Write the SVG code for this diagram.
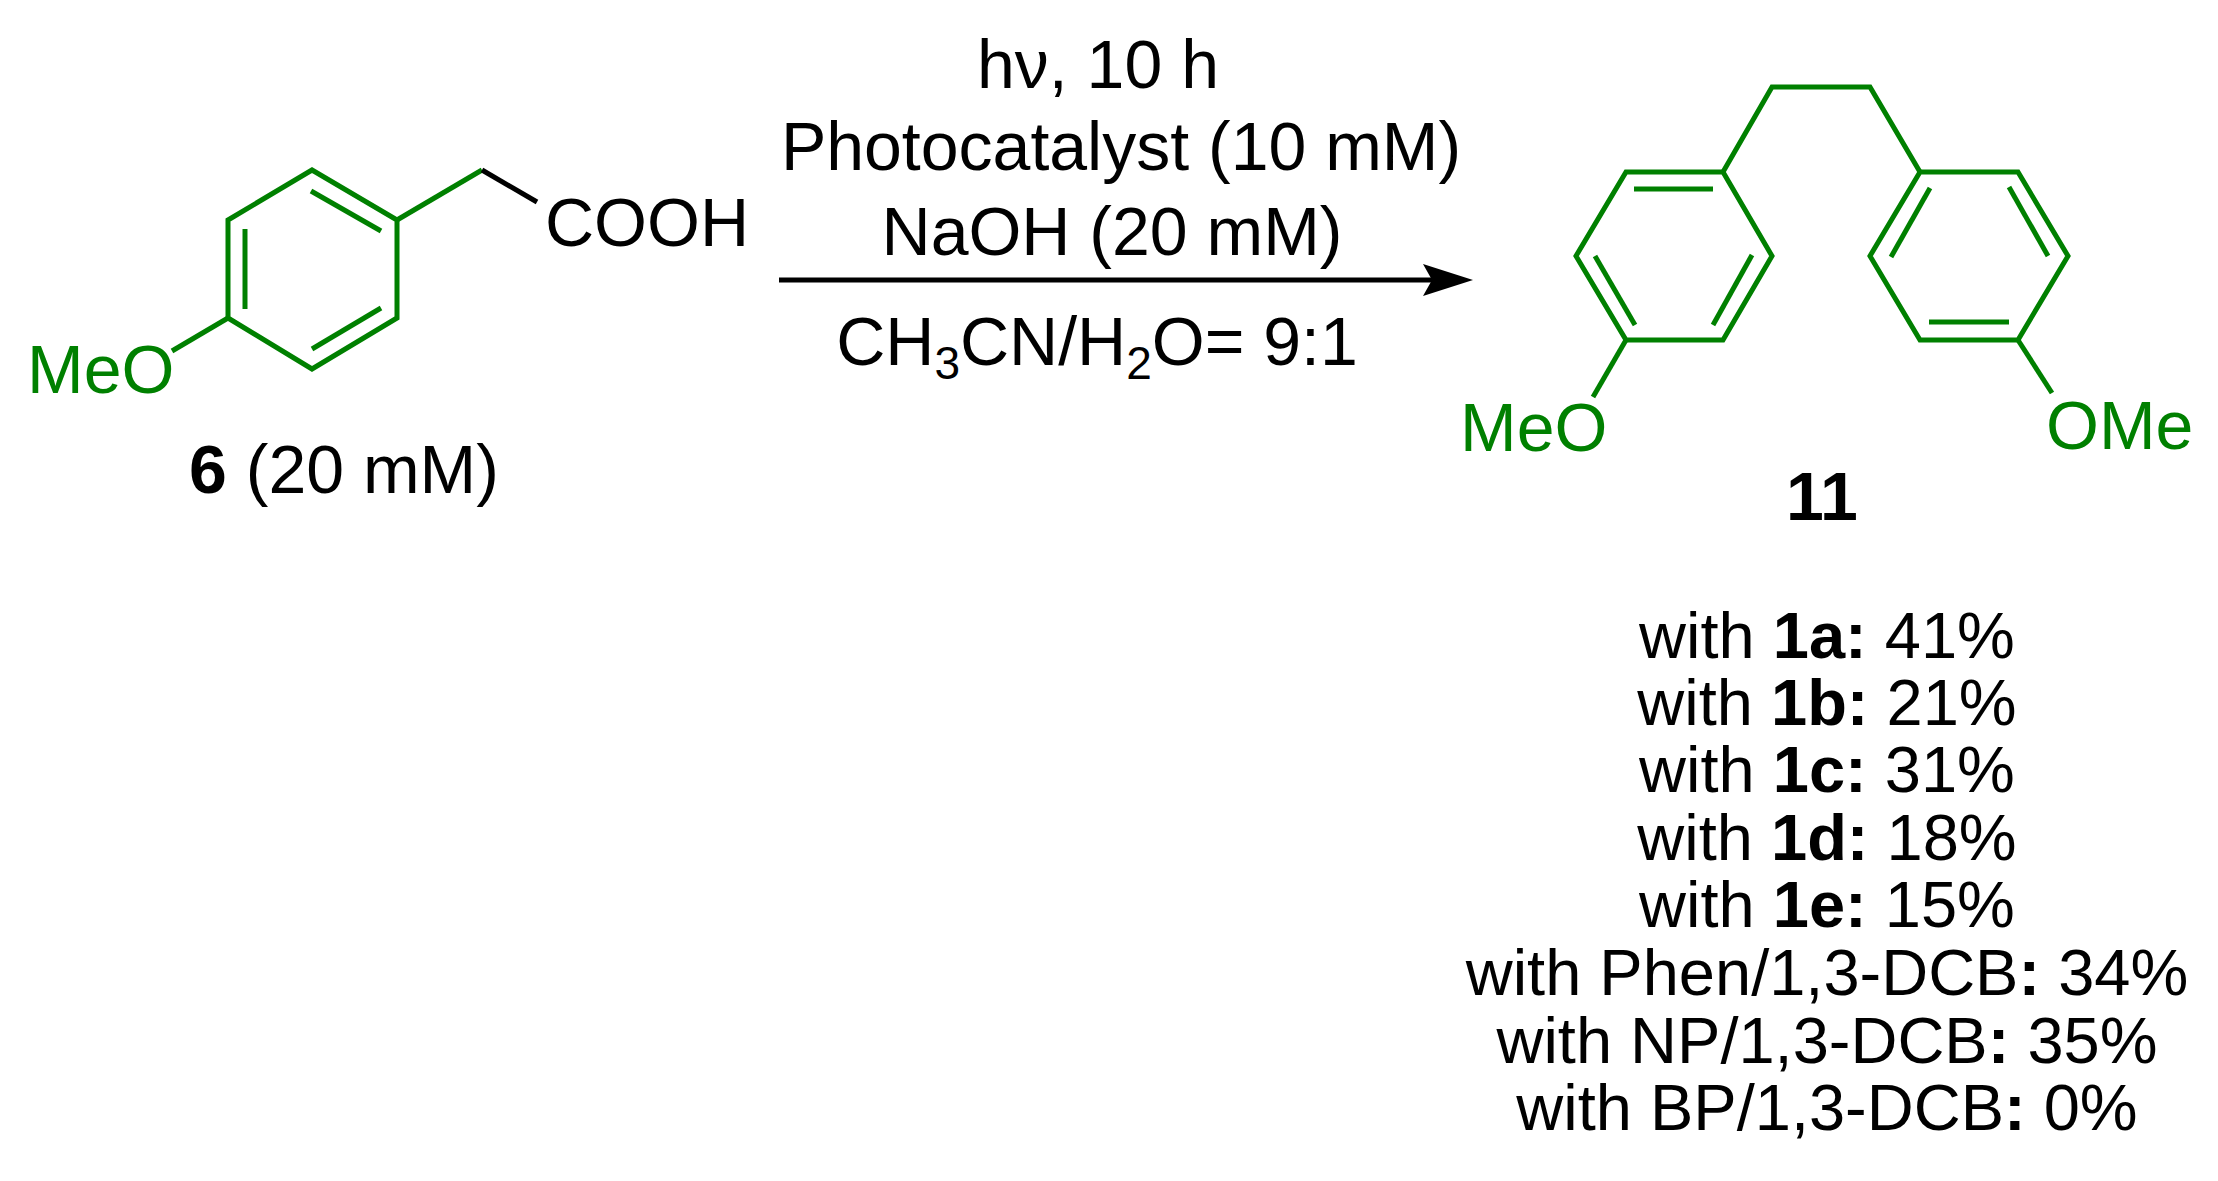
<svg xmlns="http://www.w3.org/2000/svg" width="2218" height="1181" viewBox="0 0 2218 1181">
<style>
text{font-family:"Liberation Sans",Arial,sans-serif;font-size:68px;fill:#000}
.y{font-size:65px}
.g{fill:#008000}
.b{font-weight:bold}
.bond{stroke:#008000;stroke-width:5;fill:none;stroke-linejoin:miter}
.k{stroke:#000;stroke-width:5;fill:none}
.m{text-anchor:middle}
</style>
<rect width="2218" height="1181" fill="#fff"/>
<g id="compound6">
<polygon class="bond" points="312,170 397,220 397,318 312,369 228,318 228,220"/>
<line class="bond" x1="311" y1="191" x2="381" y2="231"/>
<line class="bond" x1="245" y1="229" x2="245" y2="309"/>
<line class="bond" x1="312" y1="349" x2="381" y2="308"/>
<polyline class="bond" points="397,220 482,170"/>
<polyline class="k" points="482,170 537,202"/>
<line class="bond" x1="228" y1="318" x2="172" y2="351"/>
<text x="545" y="246">COOH</text>
<text class="g" x="27" y="393">MeO</text>
<text x="344" y="493" class="m"><tspan class="b">6</tspan> (20 mM)</text>
</g>
<g id="connectors">
<line x1="779" y1="280" x2="1440" y2="280" stroke="#000" stroke-width="5"/>
<path d="M1473,280 L1423,264 L1432,280 L1423,296 Z" fill="#000"/>
</g>
<g id="conditions">
<text class="m" x="1098" y="88">hν, 10 h</text>
<text class="m" x="1121" y="170">Photocatalyst (10 mM)</text>
<text class="m" x="1112" y="255">NaOH (20 mM)</text>
<text class="m" x="1097" y="365">CH<tspan font-size="46" dy="14">3</tspan><tspan dy="-14">CN/H</tspan><tspan font-size="46" dy="14">2</tspan><tspan dy="-14">O= 9:1</tspan></text>
</g>
<g id="compound11">
<polygon class="bond" points="1626,172 1723,172 1772,256 1723,340 1626,340 1576,256"/>
<line class="bond" x1="1634" y1="189" x2="1713" y2="189"/>
<line class="bond" x1="1595" y1="256" x2="1635" y2="325"/>
<line class="bond" x1="1752" y1="255" x2="1713" y2="325"/>
<polygon class="bond" points="1920,172 2018,172 2068,256 2018,340 1920,340 1870,256"/>
<line class="bond" x1="1930" y1="188" x2="1891" y2="257"/>
<line class="bond" x1="2009" y1="187" x2="2048" y2="256"/>
<line class="bond" x1="1929" y1="322" x2="2009" y2="322"/>
<polyline class="bond" points="1723,172 1772,87 1870,87 1920,172"/>
<line class="bond" x1="1626" y1="340" x2="1593" y2="397"/>
<line class="bond" x1="2018" y1="340" x2="2052" y2="393"/>
<text class="g" x="1460" y="451">MeO</text>
<text class="g" x="2046" y="449">OMe</text>
<text class="b m" x="1822" y="520">11</text>
</g>
<g id="yields">
<text class="m y" x="1827" y="658">with <tspan class="b">1a:</tspan> 41%</text>
<text class="m y" x="1827" y="725">with <tspan class="b">1b:</tspan> 21%</text>
<text class="m y" x="1827" y="792">with <tspan class="b">1c:</tspan> 31%</text>
<text class="m y" x="1827" y="860">with <tspan class="b">1d:</tspan> 18%</text>
<text class="m y" x="1827" y="927">with <tspan class="b">1e:</tspan> 15%</text>
<text class="m y" x="1827" y="995">with Phen/1,3-DCB<tspan class="b">:</tspan> 34%</text>
<text class="m y" x="1827" y="1063">with NP/1,3-DCB<tspan class="b">:</tspan> 35%</text>
<text class="m y" x="1827" y="1130">with BP/1,3-DCB<tspan class="b">:</tspan> 0%</text>
</g>
</svg>
